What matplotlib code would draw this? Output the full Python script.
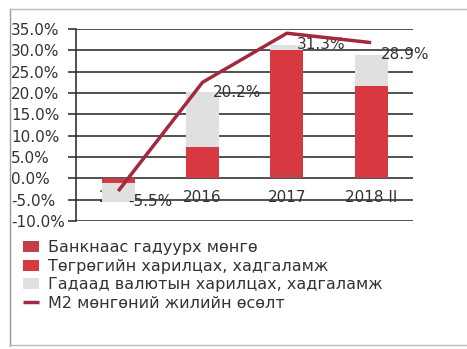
import matplotlib.pyplot as plt
import numpy as np

categories = ['2015', '2016', '2017', '2018 II']
banknotes = [-0.6, 0.4, 1.0, 0.8]          # Банкнаас гадуурх мөнгө
tugrug = [-0.4, 7.0, 29.0, 20.8]           # Төгрөгийн харилцах, хадгаламж
foreign = [-4.5, 12.8, 1.3, 7.3]           # Гадаад валютын харилцах, хадгаламж
m2_growth = [-3.0, 22.5, 34.0, 31.8]       # M2 мөнгөний жилийн өсөлт
m2_labels = ['-5.5%', '20.2%', '31.3%', '28.9%']
yticks = [-10, -5, 0, 5, 10, 15, 20, 25, 30, 35]

plt.rcParams['font.family'] = ['DejaVu Sans']

fig = plt.figure(figsize=(4.67, 3.49), dpi=100)
ax = fig.add_axes([0.163, 0.367, 0.722, 0.55])

x = np.arange(len(categories))
w = 0.39
series = [
    (banknotes, '#C2404A', 'Банкнаас гадуурх мөнгө'),
    (tugrug, '#D8383F', 'Төгрөгийн харилцах, хадгаламж'),
    (foreign, '#E0E0E0', 'Гадаад валютын харилцах, хадгаламж'),
]
pos_base = np.zeros(len(x))
neg_base = np.zeros(len(x))
for vals, color, label in series:
    vals = np.array(vals)
    bottom = np.where(vals >= 0, pos_base, neg_base)
    ax.bar(x, vals, w, bottom=bottom, color=color, label=label, zorder=3)
    pos_base += np.where(vals >= 0, vals, 0)
    neg_base += np.where(vals < 0, vals, 0)
totals = pos_base + neg_base

ax.plot(x, m2_growth, color='#A3293E', lw=2.5, label='M2 мөнгөний жилийн өсөлт',
        zorder=5, solid_capstyle='butt')

for i, t in enumerate(totals):
    ax.text(i + 0.12, t, m2_labels[i], ha='left', va='center', fontsize=11,
            color='#333333', zorder=4)

# category labels sit on the -5% gridline
for i, c in enumerate(categories):
    ax.text(i, -4.4, c, ha='center', va='center', fontsize=11,
            color='#333333', zorder=2)

ax.set_xlim(-0.5, 3.5)
ax.set_ylim(-10, 35)
ax.set_yticks(yticks)
ax.set_yticklabels([f'{v:.1f}%' for v in yticks], fontsize=11, color='#333333',
                   ha='left')
ax.tick_params(axis='y', length=6, width=1.2, color='#333333', pad=41)
ax.set_xticks([])
ax.grid(axis='y', color='#333333', lw=1.2, zorder=1)
ax.set_axisbelow(True)
for s in ['top', 'right', 'bottom']:
    ax.spines[s].set_visible(False)
ax.spines['left'].set_color('#333333')
ax.spines['left'].set_linewidth(1.2)

handles, labels = ax.get_legend_handles_labels()
order = [1, 2, 3, 0]
fig.legend([handles[i] for i in order], [labels[i] for i in order],
           loc='upper left', bbox_to_anchor=(0.035, 0.33), frameon=False,
           fontsize=11.5, labelcolor='#333333', handlelength=1.0, handleheight=0.7,
           handletextpad=0.6, labelspacing=0.22, borderaxespad=0)

# photo frame
fig.add_artist(plt.Line2D([0.022, 0.022], [0.01, 0.975], color='#999999', lw=1))
fig.add_artist(plt.Line2D([0.022, 1.0], [0.975, 0.975], color='#bbbbbb', lw=1))
fig.add_artist(plt.Line2D([0.022, 1.0], [0.012, 0.012], color='#bbbbbb', lw=1))

fig.savefig('out.png', dpi=100)
